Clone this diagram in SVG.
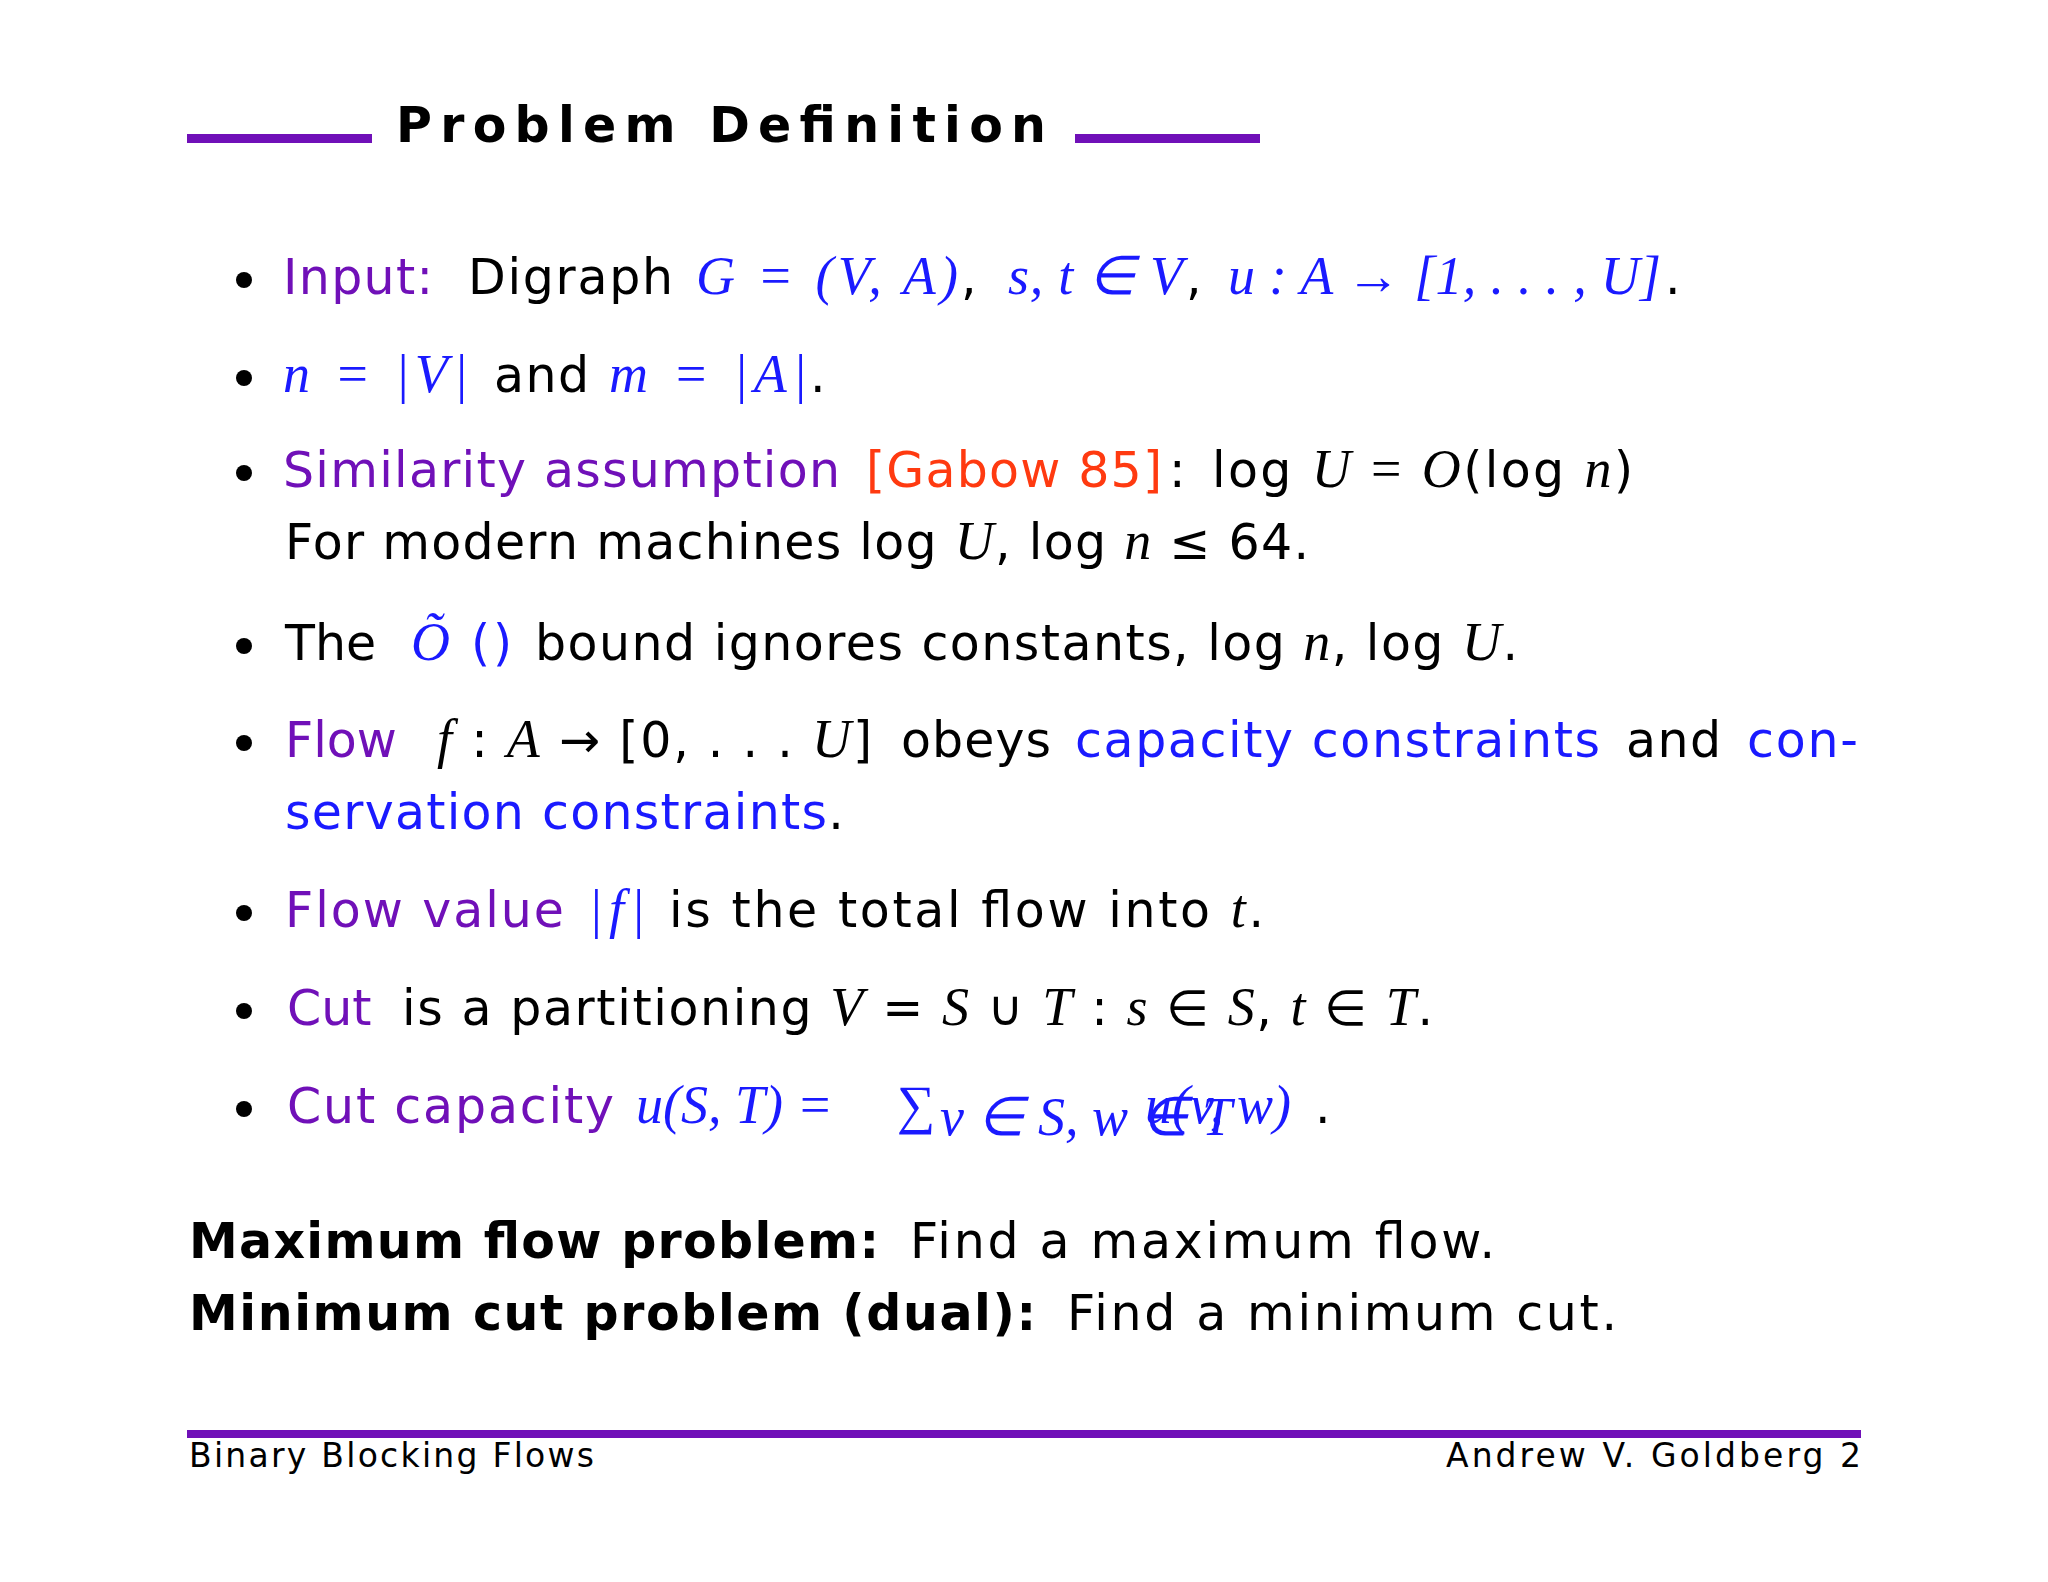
<svg xmlns="http://www.w3.org/2000/svg" width="2048" height="1582" viewBox="0 0 2048 1582">
<style>
text{font-family:"DejaVu Sans","Liberation Sans",sans-serif;font-size:49px;fill:#000}
.p{fill:#7010b8}.b{fill:#1a1aff}.r{fill:#ff3a10}
.m{font-family:"Liberation Serif",serif;font-style:italic;font-size:54px}
.n{font-family:"Liberation Serif",serif;font-size:54px}
.bd{font-weight:bold}
.f{font-size:33px}
</style>
<rect width="2048" height="1582" fill="#fff"/>
<g id="title">
<rect x="187" y="134" width="185" height="9" fill="#7010b8"/>
<rect x="1075" y="134" width="185" height="9" fill="#7010b8"/>
<text x="396" y="142" class="bd" font-size="70" textLength="650" lengthAdjust="spacing">Problem Definition</text>
</g>
<g id="bullets" fill="#000">
<circle cx="244" cy="280" r="8"/><circle cx="244" cy="378" r="8"/><circle cx="244" cy="473" r="8"/>
<circle cx="244" cy="646" r="8"/><circle cx="244" cy="743" r="8"/><circle cx="244" cy="913" r="8"/>
<circle cx="244" cy="1011" r="8"/><circle cx="244" cy="1109" r="8"/>
</g>
<g id="body">
<text y="294"><tspan x="283" class="p" textLength="150" lengthAdjust="spacing">Input:</tspan><tspan x="468" textLength="205" lengthAdjust="spacing">Digraph</tspan><tspan x="696" class="b m" textLength="262" lengthAdjust="spacing">G <tspan class="n">= (</tspan>V, A<tspan class="n">)</tspan></tspan><tspan x="961">,</tspan><tspan x="1008" class="b m" textLength="175" lengthAdjust="spacing">s, t <tspan class="n">∈</tspan> V</tspan><tspan x="1186">,</tspan><tspan x="1228" class="b m" textLength="433" lengthAdjust="spacing">u <tspan class="n">:</tspan> A <tspan class="n">→ [1, . . . ,</tspan> U<tspan class="n">]</tspan></tspan><tspan x="1665">.</tspan></text>
<text y="392"><tspan x="283" class="b m" textLength="185" lengthAdjust="spacing">n <tspan class="n">= |</tspan>V<tspan class="n">|</tspan></tspan><tspan x="494" textLength="95" lengthAdjust="spacing">and</tspan><tspan x="609" class="b m" textLength="198" lengthAdjust="spacing">m <tspan class="n">= |</tspan>A<tspan class="n">|</tspan></tspan><tspan x="810">.</tspan></text>
<text y="487"><tspan x="283" class="p" textLength="557" lengthAdjust="spacing">Similarity assumption</tspan><tspan x="866" class="r" textLength="296" lengthAdjust="spacing">[Gabow 85]</tspan><tspan x="1169">:</tspan><tspan x="1212" textLength="421" lengthAdjust="spacing">log <tspan class="m">U</tspan> <tspan class="n">=</tspan> <tspan class="m">O</tspan>(log <tspan class="m">n</tspan>)</tspan></text>
<text y="559" x="285" textLength="1024" lengthAdjust="spacing">For modern machines log <tspan class="m">U</tspan>, log <tspan class="m">n</tspan> ≤ 64.</text>
<text y="660"><tspan x="285">The</tspan><tspan x="411" class="b" textLength="101" lengthAdjust="spacing"><tspan class="m">Õ</tspan> ()</tspan><tspan x="535" textLength="983" lengthAdjust="spacing">bound ignores constants, log <tspan class="m">n</tspan>, log <tspan class="m">U</tspan>.</tspan></text>
<text y="757"><tspan x="285" class="p">Flow</tspan><tspan x="437" textLength="435" lengthAdjust="spacing"><tspan class="m">f</tspan> : <tspan class="m">A</tspan> → [0, . . . <tspan class="m">U</tspan>]</tspan><tspan x="901" textLength="150" lengthAdjust="spacing">obeys</tspan><tspan x="1075" class="b" textLength="525" lengthAdjust="spacing">capacity constraints</tspan><tspan x="1626" textLength="95" lengthAdjust="spacing">and</tspan><tspan x="1747" class="b" textLength="111" lengthAdjust="spacing">con-</tspan></text>
<text y="829"><tspan x="285" class="b" textLength="542" lengthAdjust="spacing">servation constraints</tspan><tspan>.</tspan></text>
<text y="927"><tspan x="285" class="p" textLength="279" lengthAdjust="spacing">Flow value</tspan><tspan x="588" class="b m" textLength="57" lengthAdjust="spacing"><tspan class="n">|</tspan>f<tspan class="n">|</tspan></tspan><tspan x="669" textLength="595" lengthAdjust="spacing">is the total flow into <tspan class="m">t</tspan>.</tspan></text>
<text y="1025"><tspan x="287" class="p">Cut</tspan><tspan x="402" textLength="1031" lengthAdjust="spacing">is a partitioning <tspan class="m">V</tspan> = <tspan class="m">S</tspan> ∪ <tspan class="m">T</tspan> : <tspan class="m">s</tspan> ∈ <tspan class="m">S</tspan>, <tspan class="m">t</tspan> ∈ <tspan class="m">T</tspan>.</tspan></text>
<text y="1123"><tspan x="287" class="p" textLength="327" lengthAdjust="spacing">Cut capacity</tspan><tspan x="636" class="b m">u<tspan class="n">(</tspan>S, T<tspan class="n">) =</tspan></tspan></text>
<text x="897" y="1123" class="b n" font-size="50">∑</text>
<text x="940" y="1135" class="b m" font-size="34">v ∈ S, w ∈ T</text>
<text y="1123"><tspan x="1145" class="b m">u<tspan class="n">(</tspan>v, w<tspan class="n">)</tspan></tspan><tspan x="1315">.</tspan></text>
<text y="1258"><tspan x="189" class="bd" textLength="690" lengthAdjust="spacing">Maximum flow problem:</tspan><tspan x="910" textLength="585" lengthAdjust="spacing">Find a maximum flow.</tspan></text>
<text y="1330"><tspan x="189" class="bd" textLength="847" lengthAdjust="spacing">Minimum cut problem (dual):</tspan><tspan x="1067" textLength="550" lengthAdjust="spacing">Find a minimum cut.</tspan></text>
</g>
<g id="footer">
<rect x="187" y="1430" width="1674" height="8" fill="#7010b8"/>
<text x="189" y="1467" class="f" textLength="405" lengthAdjust="spacing">Binary Blocking Flows</text>
<text x="1446" y="1467" class="f" textLength="415" lengthAdjust="spacing">Andrew V. Goldberg 2</text>
</g>
</svg>
